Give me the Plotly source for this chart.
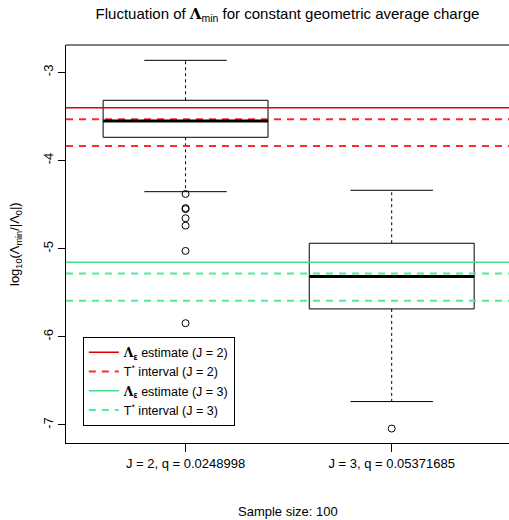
import plotly.graph_objects as go

# ---- data ----
categories = ["J = 2, q = 0.0248998", "J = 3, q = 0.05371685"]
positions = [1, 2]
lower_whisker = [-4.354, -6.735]
q1 = [-3.737, -5.684]
median = [-3.552, -5.317]
q3 = [-3.317, -4.939]
upper_whisker = [-2.864, -4.338]
outliers = [
    [-4.380, -4.540, -4.552, -4.655, -4.739, -5.026, -5.846],
    [-7.041],
]
estimate_j2 = -3.401
interval_j2 = [-3.533, -3.836]
estimate_j3 = -5.154
interval_j3 = [-5.283, -5.590]
y_ticks = [-7, -6, -5, -4, -3]

# ---- style ----
BOXW = 0.8
CAPW = 0.4
XR = [0.42, 2.569]
YR = [-7.205, -2.69]
RED_SOLID = "#E00000"
RED_DASH = "#FF2A2A"
GRN_SOLID = "#45E08C"
GRN_DASH = "#4EEE94"
FONT = "Liberation Sans, Arial, sans-serif"
LAM = '<span style="font-family:DejaVu Serif"><b>Λ</b></span>'

fig = go.Figure()

# boxes
for i, p in enumerate(positions):
    l, r = p - BOXW / 2, p + BOXW / 2
    # whiskers (dashed)
    fig.add_trace(go.Scatter(
        x=[p, p, None, p, p], y=[q3[i], upper_whisker[i], None, q1[i], lower_whisker[i]],
        mode="lines", line=dict(color="black", width=1, dash="3px,3px"),
        showlegend=False, hoverinfo="skip"))
    # caps
    fig.add_trace(go.Scatter(
        x=[p - CAPW / 2, p + CAPW / 2, None, p - CAPW / 2, p + CAPW / 2],
        y=[upper_whisker[i], upper_whisker[i], None, lower_whisker[i], lower_whisker[i]],
        mode="lines", line=dict(color="black", width=1),
        showlegend=False, hoverinfo="skip"))
    # box
    fig.add_trace(go.Scatter(
        x=[l, r, r, l, l], y=[q1[i], q1[i], q3[i], q3[i], q1[i]],
        mode="lines", line=dict(color="black", width=1),
        showlegend=False, hoverinfo="skip"))
    # outliers
    fig.add_trace(go.Scatter(
        x=[p] * len(outliers[i]), y=outliers[i], mode="markers",
        marker=dict(symbol="circle-open", size=7, color="black", line=dict(width=1)),
        showlegend=False, hoverinfo="skip"))

# horizontal reference lines
def hline_trace(vals, color, width, dash, name):
    xs, ys = [], []
    for v in vals:
        xs += [XR[0], XR[1], None]
        ys += [v, v, None]
    return go.Scatter(x=xs, y=ys, mode="lines", name=name,
                      line=dict(color=color, width=width, dash=dash),
                      hoverinfo="skip")

fig.add_trace(hline_trace([estimate_j2], RED_SOLID, 1.5, "solid",
                          LAM + "<sub><b>ε</b></sub> estimate (J = 2)"))
fig.add_trace(hline_trace(interval_j2, RED_DASH, 2, "7px,6px",
                          "T<sup>*</sup> interval (J = 2)"))
fig.add_trace(hline_trace([estimate_j3], GRN_SOLID, 1.5, "solid",
                          LAM + "<sub><b>ε</b></sub> estimate (J = 3)"))
fig.add_trace(hline_trace(interval_j3, GRN_DASH, 2, "7px,6px",
                          "T<sup>*</sup> interval (J = 3)"))

# medians (thick, drawn on top)
for i, p in enumerate(positions):
    fig.add_trace(go.Scatter(
        x=[p - BOXW / 2, p + BOXW / 2], y=[median[i], median[i]],
        mode="lines", line=dict(color="black", width=3),
        showlegend=False, hoverinfo="skip"))

fig.update_layout(
    width=509, height=520,
    margin=dict(l=66, r=0, t=45, b=77),
    paper_bgcolor="white", plot_bgcolor="white",
    font=dict(family=FONT, size=13, color="black"),
    title=dict(text="Fluctuation of " + LAM + "<sub>min</sub> for constant geometric average charge",
               x=0.5, xref="paper", xanchor="center",
               y=1 - 14 / 520, yref="container", yanchor="middle",
               font=dict(size=15)),
    showlegend=True,
    legend=dict(x=0.038, y=0.267, xanchor="left", yanchor="top",
                bordercolor="black", borderwidth=1, bgcolor="white",
                font=dict(size=12.5), tracegroupgap=0, itemwidth=30),
    xaxis=dict(range=XR, tickvals=positions, ticktext=categories,
               showgrid=False, zeroline=False, showline=True, linecolor="black",
               linewidth=1, ticks="outside", ticklen=8, tickcolor="black",
               fixedrange=True, automargin=False),
    yaxis=dict(range=YR, tickvals=y_ticks, ticktext=[str(v) for v in y_ticks],
               tickangle=-90, showgrid=False, zeroline=False, showline=True,
               linecolor="black", linewidth=1, ticks="outside", ticklen=7,
               tickcolor="black", fixedrange=True, automargin=False),
    shapes=[dict(type="line", xref="paper", yref="paper", x0=0, x1=1, y0=1, y1=1,
                 line=dict(color="black", width=1))],
    annotations=[
        dict(text="log<sub>10</sub>(Λ<sub>min</sub>/|Λ<sub>0</sub>|)", textangle=-90,
             xref="paper", yref="paper", x=(15 - 66) / 443, y=0.5,
             xanchor="center", yanchor="middle", showarrow=False, font=dict(size=13)),
        dict(text="Sample size: 100", xref="paper", yref="paper",
             x=0.5, y=(443 - 511) / 398, xanchor="center", yanchor="middle",
             showarrow=False, font=dict(size=13)),
    ],
)

fig.write_html("out.html", config={"displayModeBar": False},
               post_script="document.body.style.margin='0';document.body.style.padding='0';")
